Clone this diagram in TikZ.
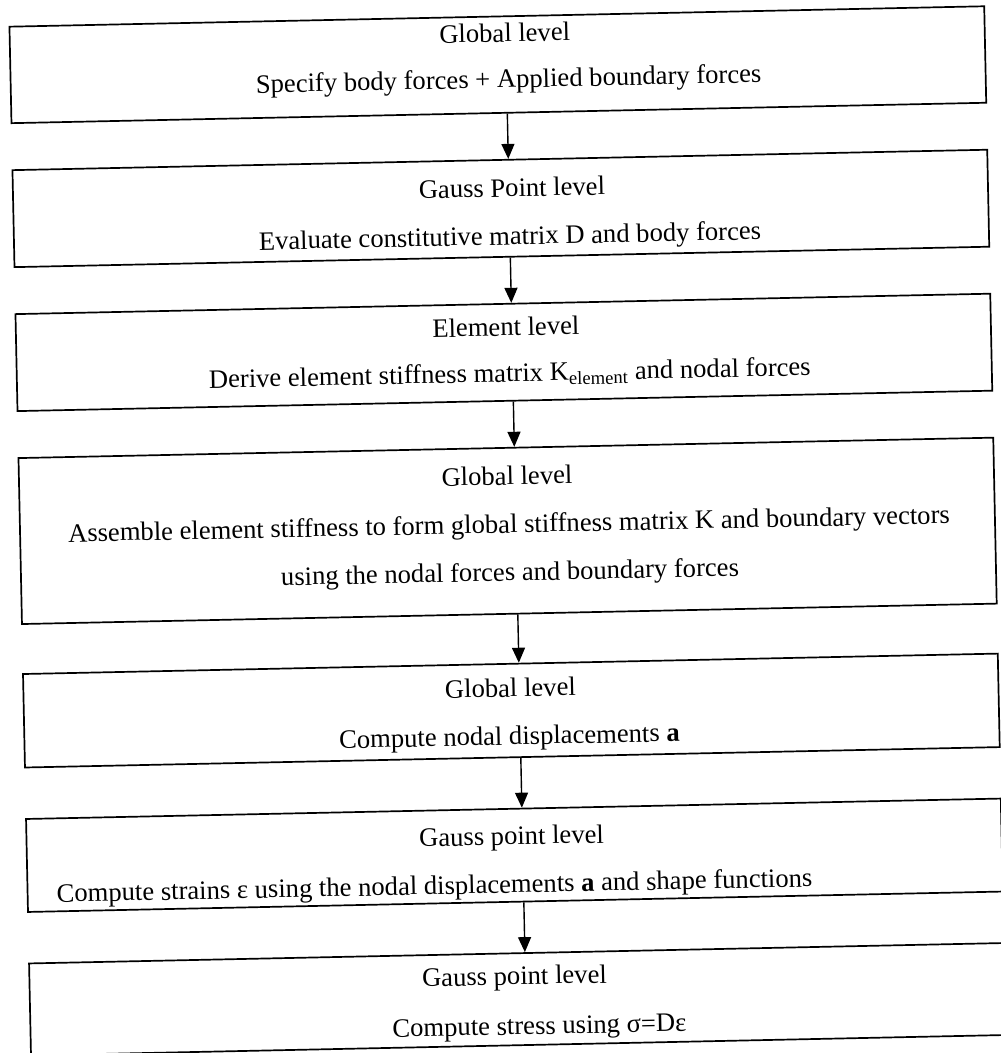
\documentclass[tikz,border=0pt]{standalone}
\usepackage{fontspec}
\setmainfont{Liberation Serif}
\usetikzlibrary{arrows.meta}
\begin{document}
\begin{tikzpicture}[x=1pt,y=-1pt,
  box/.style={draw, line width=1.7pt, minimum width=975pt, inner sep=0pt, rectangle},
  lbl/.style={anchor=base, inner sep=0pt, font=\fontsize{26.6}{30}\selectfont},
  arr/.style={line width=1.4pt, -{Triangle[length=15pt,width=13pt]}}]
\clip (0,0) rectangle (1001,1053);
\fill[white] (0,0) rectangle (1001,1053);
\begin{scope}[rotate around={1.2:(500,526)}, transform shape]
\node[box, minimum height=96.5pt] (b1) at (507.5,64.75) {};
\node[box, minimum height=97pt]   (b2) at (507.5,208.5) {};
\node[box, minimum height=97pt]   (b3) at (507.5,352.5) {};
\node[box, minimum height=166pt]  (b4) at (507.5,531) {};
\node[box, minimum height=93.5pt] (b5) at (507.5,710.75) {};
\node[box, minimum height=93pt]   (b6) at (507.5,855.5) {};
\node[box, minimum height=92pt]   (b7) at (507.5,999.5) {};

\node[lbl] (t1a) at (515,42) {Global level};
\node[lbl] (t1b) at (518,88) {Specify body forces + Applied boundary forces};
\node[lbl] (t2a) at (519,197) {Gauss Point level};
\node[lbl] (t2b) at (516,245) {Evaluate constitutive matrix D and body forces};
\node[lbl] (t3a) at (510,336) {Element level};
\node[lbl] (t3b) at (513,382) {Derive element stiffness matrix K\textsubscript{element} and nodal forces};
\node[lbl] (t4a) at (508,485) {Global level};
\node[lbl] (t4b) at (509,533) {Assemble element stiffness to form global stiffness matrix K and boundary vectors};
\node[lbl] (t4c) at (509,581) {using the nodal forces and boundary forces};
\node[lbl] (t5a) at (507,697) {Global level};
\node[lbl] (t5b) at (505,745) {Compute nodal displacements \textbf{a}};
\node[lbl] (t6a) at (505,845) {Gauss point level};
\node[lbl] (t6b) at (427,893) {Compute strains ε using the nodal displacements \textbf{a} and shape functions};
\node[lbl] (t7a) at (505,985) {Gauss point level};
\node[lbl] (t7b) at (529,1035) {Compute stress using σ=Dε};

\draw[arr] ([xshift=8.5pt]b1.south) -- ([xshift=8.5pt]b2.north);
\draw[arr] ([xshift=8.5pt]b2.south) -- ([xshift=8.5pt]b3.north);
\draw[arr] ([xshift=8.5pt]b3.south) -- ([xshift=8.5pt]b4.north);
\draw[arr] ([xshift=8.5pt]b4.south) -- ([xshift=8.5pt]b5.north);
\draw[arr] ([xshift=8.5pt]b5.south) -- ([xshift=8.5pt]b6.north);
\draw[arr] ([xshift=8.5pt]b6.south) -- ([xshift=8.5pt]b7.north);
\end{scope}
\end{tikzpicture}
\end{document}
